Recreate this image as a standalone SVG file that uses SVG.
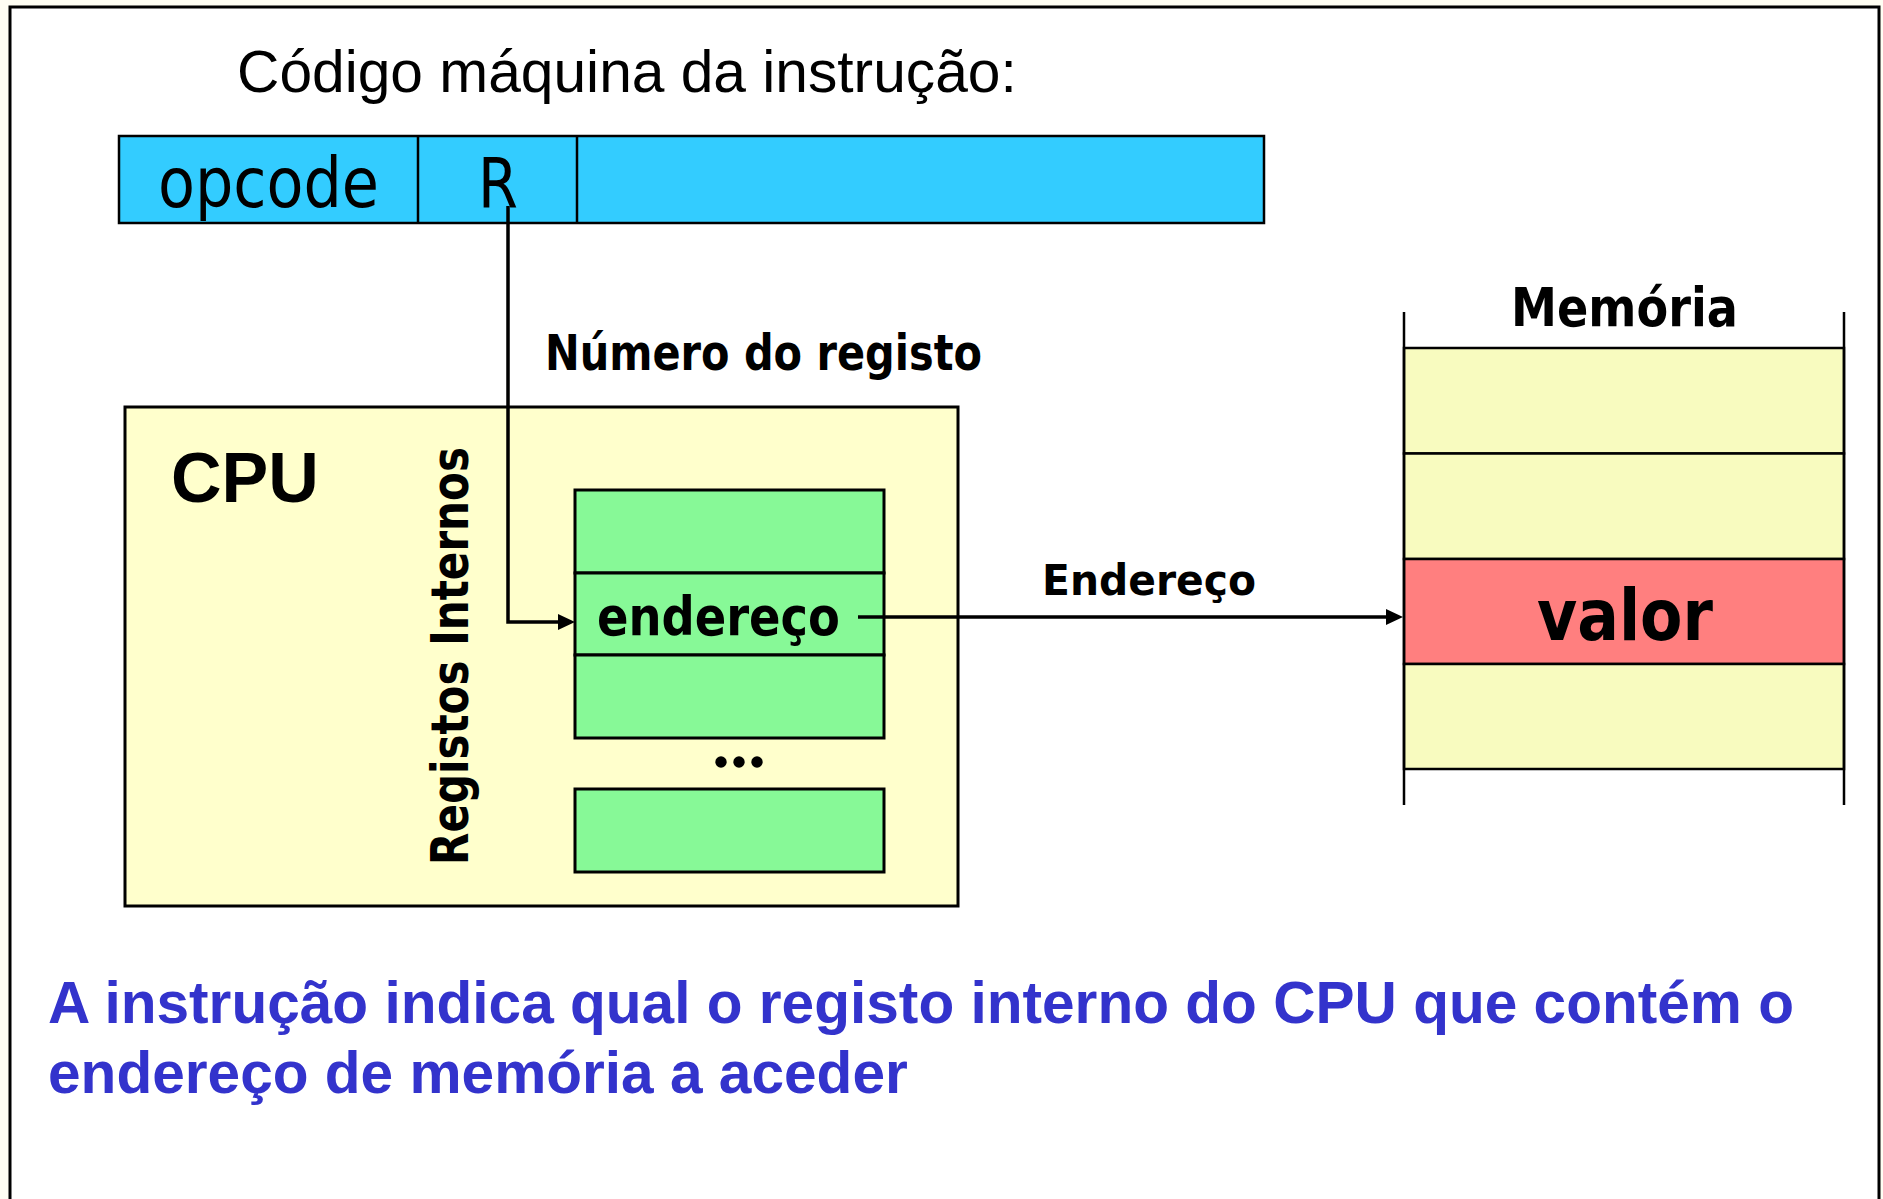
<svg xmlns="http://www.w3.org/2000/svg" width="1883" height="1199" viewBox="0 0 1883 1199">
  <style>
    .box { stroke: #000; stroke-width: 3; }
    .thin { stroke: #000; stroke-width: 2.5; fill: none; }
    .reg { fill: #87F997; stroke: #000; stroke-width: 3; }
    .mem { fill: #F8FBBF; stroke: #000; stroke-width: 2.5; }
    .tahoma { font-family: "DejaVu Sans", "Liberation Sans", sans-serif; fill: #000; }
    .tahomab { font-family: "DejaVu Sans", "Liberation Sans", sans-serif; font-weight: bold; fill: #000; }
    .arial { font-family: "Liberation Sans", Arial, sans-serif; fill: #000; }
    .note { font-family: "Liberation Sans", Arial, sans-serif; font-weight: bold; font-size: 58.6px; fill: #3333CC; }
    .conn { stroke: #000; stroke-width: 3.5; fill: none; }
  </style>
  <defs>
    <marker id="arrow" markerUnits="userSpaceOnUse" markerWidth="18" markerHeight="18" refX="10" refY="8" orient="auto">
      <path d="M0,0 L17,8 L0,16 Z" fill="#000"/>
    </marker>
  </defs>

  <rect x="0" y="0" width="1883" height="1199" fill="#FFFEF3"/>
  <rect id="frame" x="10" y="7" width="1869" height="1210" fill="#FFFFFF" stroke="#000" stroke-width="3"/>

  <g id="title">
    <text class="arial" x="237" y="92" font-size="58.7">Código máquina da instrução:</text>
  </g>

  <g id="instruction">
    <rect x="119" y="136" width="1145" height="87" fill="#33CCFF" stroke="#000" stroke-width="2.5"/>
    <line x1="418" y1="136" x2="418" y2="223" class="thin"/>
    <line x1="577" y1="136" x2="577" y2="223" class="thin"/>
    <text class="tahoma" x="158" y="207" font-size="69" textLength="221" lengthAdjust="spacingAndGlyphs">opcode</text>
    <text class="tahoma" x="478" y="207" font-size="69" textLength="40" lengthAdjust="spacingAndGlyphs">R</text>
  </g>

  <g id="label-numero">
    <text class="tahomab" x="545" y="370" font-size="49.5" textLength="437" lengthAdjust="spacingAndGlyphs">Número do registo</text>
  </g>

  <g id="cpu">
    <rect x="125" y="407" width="833" height="499" fill="#FFFFCC" class="box"/>
    <text class="arial" x="171" y="502" font-size="70" font-weight="bold">CPU</text>
    <text class="tahomab" transform="translate(468,865) rotate(-90)" x="0" y="0" font-size="52" textLength="418" lengthAdjust="spacingAndGlyphs">Registos Internos</text>
  </g>

  <g id="registers">
    <rect class="reg" x="575" y="490" width="309" height="83"/>
    <rect class="reg" x="575" y="573" width="309" height="82"/>
    <rect class="reg" x="575" y="655" width="309" height="83"/>
    <text class="tahomab" x="597" y="635" font-size="53" textLength="243" lengthAdjust="spacingAndGlyphs">endereço</text>
    <circle cx="721" cy="762" r="5.7" fill="#000"/>
    <circle cx="739" cy="762" r="5.7" fill="#000"/>
    <circle cx="757" cy="762" r="5.7" fill="#000"/>
    <rect class="reg" x="575" y="789" width="309" height="83"/>
  </g>

  <g id="label-endereco">
    <text class="tahomab" x="1042" y="595" font-size="43.5" textLength="214" lengthAdjust="spacingAndGlyphs">Endereço</text>
  </g>

  <g id="memory">
    <text class="tahomab" x="1511" y="326" font-size="53.5" textLength="227" lengthAdjust="spacingAndGlyphs">Memória</text>
    <rect class="mem" x="1404" y="348" width="440" height="105.5"/>
    <rect class="mem" x="1404" y="453.5" width="440" height="105.5"/>
    <rect x="1404" y="559" width="440" height="105" fill="#FF7F7F" stroke="#000" stroke-width="2.5"/>
    <rect class="mem" x="1404" y="664" width="440" height="105"/>
    <line x1="1404" y1="312" x2="1404" y2="805" class="thin"/>
    <line x1="1844" y1="312" x2="1844" y2="805" class="thin"/>
    <text class="tahomab" x="1537" y="640" font-size="71" textLength="176" lengthAdjust="spacingAndGlyphs">valor</text>
  </g>

  <g id="connectors">
    <path class="conn" d="M508,206 V622 H568" marker-end="url(#arrow)"/>
    <path class="conn" d="M858,617 H1396" marker-end="url(#arrow)"/>
  </g>

  <g id="note">
    <text class="note" x="48" y="1023">A instrução indica qual o registo interno do CPU que contém o</text>
    <text class="note" x="48" y="1093">endereço de memória a aceder</text>
  </g>
</svg>
